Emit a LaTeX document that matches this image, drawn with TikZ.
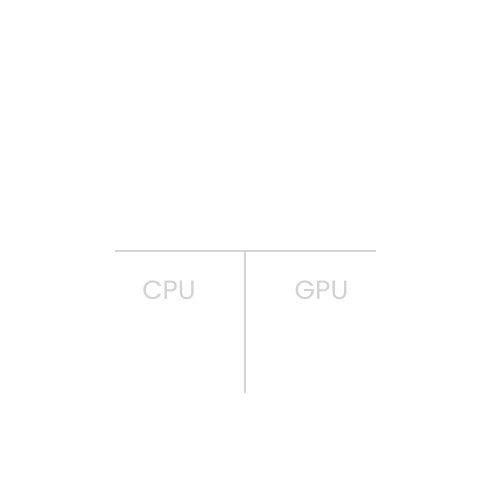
\documentclass[tikz,border=0pt]{standalone}
\usepackage{fontspec}
\newfontfamily\labelfont{Poppins}
\definecolor{linegray}{HTML}{D4D4D4}
\definecolor{textgray}{HTML}{D2D2D2}
\tikzset{
  divider/.style={draw=linegray, line width=1.6bp},
  lbl/.style={text=textgray, font=\labelfont\fontsize{26.5}{30}\selectfont, inner sep=0pt, anchor=base}
}
\begin{document}
\begin{tikzpicture}[x=1bp,y=-1bp]
\useasboundingbox[fill=white] (0,0) rectangle (481,481);
\coordinate (hl) at (115,251);
\coordinate (hr) at (376,251);
\coordinate (vt) at (245,251);
\coordinate (vb) at (245,393);
\draw[divider] (hl) -- (hr);
\draw[divider] (vt) -- (vb);
\node[lbl] (cpu) at (169,299) {CPU};
\node[lbl] (gpu) at (321.5,299) {GPU};
\end{tikzpicture}
\end{document}
